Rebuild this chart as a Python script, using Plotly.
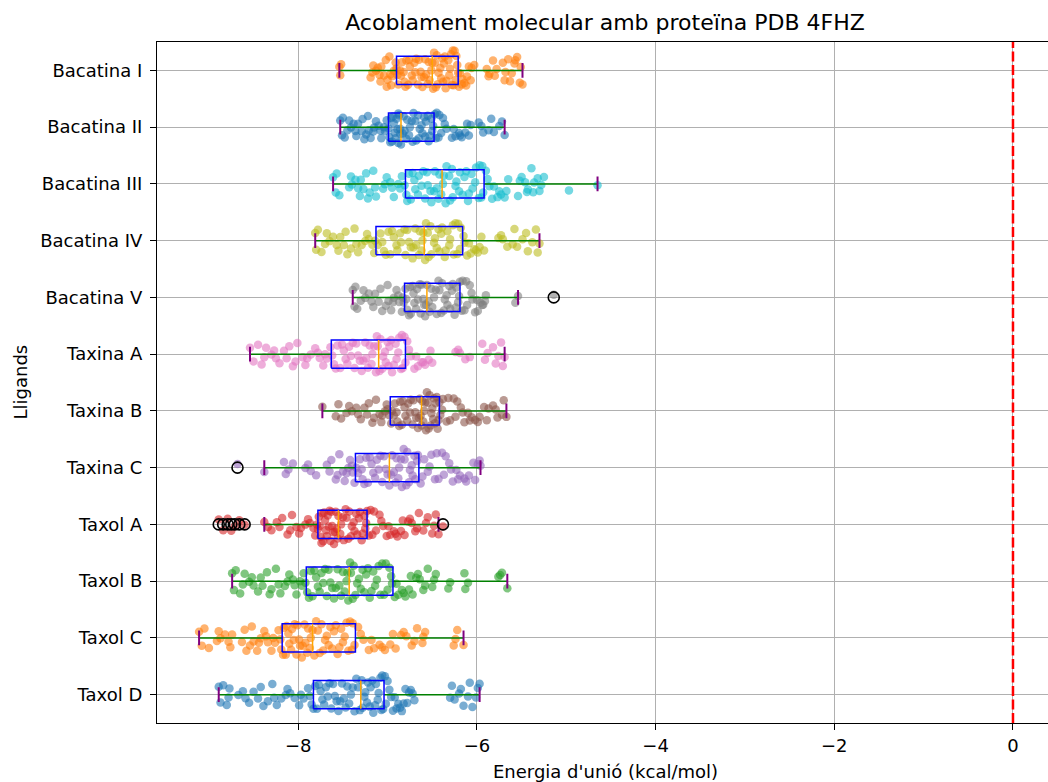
import plotly.graph_objects as go

# ---------------- data ----------------
ligands = ["Bacatina I", "Bacatina II", "Bacatina III", "Bacatina IV", "Bacatina V",
           "Taxina A", "Taxina B", "Taxina C", "Taxol A", "Taxol B", "Taxol C", "Taxol D"]
colors = ["#ff7f0e", "#1f77b4", "#17becf", "#bcbd22", "#7f7f7f",
          "#e377c2", "#8c564b", "#9467bd", "#d62728", "#2ca02c", "#ff7f0e", "#1f77b4"]

whisker_lo = [-7.54, -7.53, -7.61, -7.81, -7.39, -8.54, -7.73, -8.38, -8.38, -8.74, -9.11, -8.89]
q1 =         [-6.90, -6.99, -6.80, -7.13, -6.81, -7.63, -6.97, -7.36, -7.78, -7.91, -8.18, -7.83]
median =     [-6.50, -6.85, -6.39, -6.59, -6.56, -7.10, -6.62, -6.98, -7.55, -7.43, -7.84, -7.30]
q3 =         [-6.21, -6.48, -5.92, -6.16, -6.19, -6.80, -6.42, -6.65, -7.23, -6.94, -7.36, -7.04]
whisker_hi = [-5.49, -5.69, -4.65, -5.30, -5.54, -5.69, -5.67, -5.96, -6.43, -5.66, -6.15, -5.97]

outliers = {
    "Bacatina V": [-5.14],
    "Taxina C": [-8.68],
    "Taxol A": [-8.89, -8.84, -8.79, -8.75, -8.71, -8.66, -8.60, -6.38],
}

energies = {
    "Bacatina I": [-7.54, -7.53, -7.52, -7.19, -7.16, -7.13, -7.11, -7.08, -7.07, -7.04, -7.02, -7.01, -6.98, -6.96, -6.95, -6.93,
                   -6.90, -6.88, -6.86, -6.85, -6.82, -6.80, -6.77, -6.75, -6.73, -6.70, -6.69, -6.66, -6.63, -6.61, -6.58, -6.55, -6.53, -6.51,
                   -6.49, -6.47, -6.45, -6.43, -6.40, -6.38, -6.36, -6.35, -6.32, -6.30, -6.28, -6.26, -6.24, -6.22, -6.21,
                   -6.19, -6.17, -6.14, -6.11, -6.09, -6.06, -6.03, -5.89, -5.86, -5.82, -5.78, -5.71, -5.68, -5.65, -5.61, -5.58, -5.55, -5.51, -5.49,
                   -7.17, -7.09, -7.00, -6.97, -6.91, -6.89, -6.84, -6.81, -6.79, -6.76, -6.72, -6.68, -6.65, -6.62, -6.59, -6.57, -6.54, -6.50,
                   -6.48, -6.46, -6.44, -6.41, -6.39, -6.37, -6.34, -6.31, -6.29, -6.27, -6.25, -6.23, -6.20, -6.16, -6.12, -6.07, -5.87, -5.80,
                   -5.69, -5.63, -5.57, -5.52],
    "Bacatina II": [-7.53, -7.51, -7.48, -7.45, -7.41, -7.38, -7.36, -7.33, -7.29, -7.26, -7.24, -7.21, -7.19, -7.16, -7.13, -7.10, -7.07, -7.04, -7.01,
                    -6.99, -6.98, -6.96, -6.95, -6.93, -6.92, -6.90, -6.89, -6.88, -6.87, -6.86, -6.85,
                    -6.83, -6.81, -6.78, -6.76, -6.73, -6.71, -6.69, -6.66, -6.64, -6.61, -6.59, -6.57, -6.55, -6.53, -6.51, -6.49,
                    -6.47, -6.45, -6.43, -6.40, -6.38, -6.34, -6.28, -6.24, -6.20, -6.17, -6.13, -6.09, -6.07, -5.98, -5.93, -5.87, -5.81, -5.75, -5.69,
                    -7.50, -7.43, -7.35, -7.28, -7.22, -7.15, -7.08, -7.03, -6.97, -6.94, -6.91, -6.88, -6.86, -6.82, -6.79, -6.75,
                    -6.72, -6.68, -6.65, -6.62, -6.58, -6.54, -6.50, -6.46, -6.42, -6.36, -6.26, -6.19, -6.11, -5.95, -5.84, -5.72],
    "Bacatina III": [-7.61, -7.57, -7.54, -7.43, -7.40, -7.36, -7.33, -7.30, -7.27, -7.24, -7.20, -7.16, -7.13, -7.05, -7.01, -6.97, -6.93, -6.88, -6.84, -6.81,
                     -6.79, -6.76, -6.72, -6.69, -6.65, -6.62, -6.58, -6.55, -6.51, -6.48, -6.45, -6.42, -6.40,
                     -6.37, -6.34, -6.30, -6.27, -6.23, -6.19, -6.16, -6.12, -6.09, -6.05, -6.02, -5.98, -5.95, -5.93,
                     -5.90, -5.86, -5.81, -5.77, -5.73, -5.69, -5.65, -5.54, -5.50, -5.46, -5.43, -5.39, -5.36, -5.32, -5.28, -5.25, -4.97, -4.65,
                     -7.58, -7.41, -7.31, -7.22, -7.14, -7.03, -6.95, -6.86, -6.78, -6.74, -6.70, -6.66, -6.60, -6.56, -6.52, -6.47, -6.43,
                     -6.38, -6.35, -6.31, -6.28, -6.24, -6.20, -6.14, -6.10, -6.06, -6.01, -5.97, -5.94, -5.88, -5.83, -5.75, -5.67, -5.52,
                     -5.44, -5.37, -5.30],
    "Bacatina IV": [-7.81, -7.78, -7.74, -7.70, -7.65, -7.61, -7.57, -7.53, -7.49, -7.45, -7.41, -7.37, -7.33, -7.29, -7.25, -7.21, -7.17, -7.14,
                    -7.11, -7.06, -7.02, -6.97, -6.93, -6.89, -6.85, -6.81, -6.78, -6.74, -6.71, -6.68, -6.65, -6.62, -6.60,
                    -6.57, -6.54, -6.51, -6.48, -6.45, -6.42, -6.39, -6.36, -6.33, -6.30, -6.27, -6.24, -6.21, -6.18,
                    -6.15, -6.11, -6.07, -6.03, -5.99, -5.95, -5.92, -5.76, -5.71, -5.66, -5.60, -5.55, -5.49, -5.43, -5.38, -5.34, -5.30,
                    -7.80, -7.68, -7.55, -7.47, -7.35, -7.23, -7.15, -7.08, -7.04, -6.99, -6.95, -6.90, -6.86, -6.80, -6.76, -6.72, -6.69,
                    -6.64, -6.61, -6.58, -6.55, -6.52, -6.47, -6.43, -6.40, -6.35, -6.31, -6.26, -6.22, -6.19, -6.14, -6.09, -6.01, -5.97,
                    -5.73, -5.58, -5.45, -5.32],
    "Bacatina V": [-7.39, -7.37, -7.34, -7.30, -7.25, -7.21, -7.18, -7.14, -7.10, -7.06, -7.02, -6.99, -6.96, -6.93, -6.90, -6.87, -6.84, -6.82,
                   -6.80, -6.78, -6.76, -6.74, -6.72, -6.70, -6.68, -6.66, -6.64, -6.62, -6.60, -6.58, -6.56,
                   -6.54, -6.51, -6.48, -6.45, -6.42, -6.39, -6.36, -6.33, -6.30, -6.28, -6.25, -6.23, -6.21, -6.19,
                   -6.17, -6.14, -6.11, -6.08, -6.05, -6.02, -5.99, -5.96, -5.93, -5.90, -5.57, -5.54, -5.14,
                   -7.36, -7.27, -7.16, -7.08, -7.00, -6.94, -6.88, -6.83, -6.79, -6.75, -6.71, -6.67, -6.63, -6.59, -6.57, -6.53,
                   -6.50, -6.46, -6.43, -6.40, -6.37, -6.34, -6.31, -6.27, -6.24, -6.20, -6.16, -6.12, -6.06, -6.00, -5.94, -5.91],
    "Taxina A": [-8.54, -8.45, -8.41, -8.36, -8.30, -8.25, -8.21, -8.16, -8.10, -8.06, -8.01, -7.95, -7.90, -7.86, -7.81, -7.76, -7.72, -7.68, -7.64,
                 -7.60, -7.56, -7.51, -7.47, -7.43, -7.39, -7.35, -7.31, -7.27, -7.24, -7.20, -7.17, -7.13, -7.11,
                 -7.08, -7.05, -7.03, -7.00, -6.98, -6.95, -6.93, -6.90, -6.87, -6.85, -6.83, -6.81,
                 -6.78, -6.74, -6.70, -6.66, -6.62, -6.58, -6.54, -6.50, -6.24, -6.19, -6.13, -6.08, -5.94, -5.88, -5.82, -5.76, -5.71, -5.69,
                 -8.50, -8.38, -8.27, -8.13, -8.03, -7.92, -7.78, -7.70, -7.62, -7.58, -7.53, -7.49, -7.45, -7.41, -7.37, -7.33,
                 -7.29, -7.25, -7.22, -7.18, -7.15, -7.12, -7.09, -7.06, -7.02, -6.99, -6.96, -6.91, -6.88, -6.84, -6.80, -6.76,
                 -6.68, -6.60, -6.52, -6.21, -5.91, -5.79, -5.73],
    "Taxina B": [-7.73, -7.58, -7.52, -7.46, -7.40, -7.35, -7.30, -7.26, -7.21, -7.17, -7.13, -7.09, -7.06, -7.03, -7.00, -6.98,
                 -6.95, -6.92, -6.89, -6.86, -6.83, -6.80, -6.77, -6.74, -6.71, -6.68, -6.65, -6.63,
                 -6.61, -6.59, -6.57, -6.55, -6.53, -6.51, -6.49, -6.47, -6.45, -6.43,
                 -6.41, -6.38, -6.34, -6.30, -6.26, -6.22, -6.18, -6.14, -6.10, -6.06, -6.02, -5.97, -5.92, -5.87, -5.82, -5.77, -5.72, -5.67,
                 -7.55, -7.43, -7.33, -7.23, -7.15, -7.07, -7.01, -6.96, -6.93, -6.90, -6.87, -6.84, -6.81, -6.78, -6.75, -6.72,
                 -6.69, -6.66, -6.64, -6.62, -6.60, -6.58, -6.56, -6.54, -6.52, -6.50, -6.48, -6.46, -6.44, -6.42, -6.39, -6.32,
                 -6.24, -6.16, -6.08, -5.99, -5.89, -5.79, -5.70],
    "Taxina C": [-8.68, -8.38, -8.16, -8.11, -8.06, -7.92, -7.86, -7.80, -7.68, -7.63, -7.58, -7.54, -7.50, -7.46, -7.42, -7.39,
                 -7.35, -7.31, -7.28, -7.24, -7.20, -7.16, -7.12, -7.08, -7.04, -7.00,
                 -6.96, -6.93, -6.90, -6.87, -6.84, -6.81, -6.78, -6.75, -6.72, -6.69, -6.66,
                 -6.63, -6.59, -6.55, -6.51, -6.47, -6.43, -6.39, -6.35, -6.31, -6.27, -6.23, -6.19, -6.14, -6.09, -6.04, -5.99, -5.96,
                 -8.14, -7.89, -7.65, -7.56, -7.48, -7.44, -7.40, -7.37, -7.33, -7.29, -7.26, -7.22, -7.18, -7.14, -7.10, -7.06,
                 -7.02, -6.98, -6.95, -6.91, -6.88, -6.85, -6.82, -6.79, -6.76, -6.73, -6.70, -6.67, -6.61, -6.53, -6.45, -6.37,
                 -6.29, -6.21, -6.12, -6.02, -5.97],
    "Taxol A": [-8.89, -8.84, -8.79, -8.75, -8.71, -8.66, -8.60, -8.38, -8.30, -8.24, -8.18, -8.12, -8.07, -8.02, -7.97, -7.92, -7.87, -7.83, -7.79,
                -7.77, -7.76, -7.74, -7.73, -7.71, -7.70, -7.68, -7.67, -7.65, -7.64, -7.62, -7.61, -7.59, -7.58, -7.57, -7.56,
                -7.53, -7.50, -7.47, -7.44, -7.41, -7.38, -7.35, -7.32, -7.29, -7.26, -7.24,
                -7.21, -7.17, -7.13, -7.09, -7.05, -7.01, -6.97, -6.93, -6.89, -6.85, -6.81, -6.77, -6.73, -6.69, -6.65, -6.60, -6.55, -6.50, -6.46, -6.43, -6.38,
                -8.34, -8.21, -8.09, -7.99, -7.89, -7.81, -7.78, -7.75, -7.72, -7.69, -7.66, -7.63, -7.60, -7.55, -7.52, -7.49,
                -7.46, -7.43, -7.40, -7.37, -7.34, -7.31, -7.28, -7.25, -7.23, -7.19, -7.15, -7.07, -6.99, -6.91, -6.83, -6.75,
                -6.67, -6.57, -6.48],
    "Taxol B": [-8.74, -8.70, -8.65, -8.60, -8.55, -8.50, -8.45, -8.40, -8.35, -8.30, -8.25, -8.20, -8.15, -8.10, -8.06, -8.02, -7.98, -7.94,
                -7.90, -7.86, -7.82, -7.78, -7.74, -7.70, -7.66, -7.62, -7.58, -7.54, -7.50, -7.46, -7.44,
                -7.41, -7.38, -7.34, -7.30, -7.26, -7.22, -7.18, -7.14, -7.10, -7.06, -7.02, -6.98, -6.95,
                -6.92, -6.88, -6.84, -6.80, -6.76, -6.72, -6.68, -6.64, -6.60, -6.55, -6.50, -6.46, -6.32, -6.30, -6.13, -6.10, -5.76, -5.72, -5.66,
                -8.72, -8.62, -8.52, -8.42, -8.32, -8.22, -8.12, -8.04, -7.96, -7.92, -7.88, -7.84, -7.80, -7.76, -7.72, -7.68,
                -7.64, -7.60, -7.56, -7.52, -7.48, -7.45, -7.42, -7.39, -7.36, -7.32, -7.28, -7.24, -7.20, -7.16, -7.12, -7.08,
                -7.04, -7.00, -6.96, -6.90, -6.82, -6.74, -6.66, -6.58, -6.48, -6.14, -5.74],
    "Taxol C": [-9.11, -9.05, -9.00, -8.91, -8.87, -8.82, -8.78, -8.74, -8.63, -8.58, -8.54, -8.50, -8.46, -8.42, -8.38, -8.34, -8.30, -8.26, -8.22, -8.19,
                -8.16, -8.13, -8.10, -8.07, -8.04, -8.01, -7.98, -7.95, -7.92, -7.89, -7.86,
                -7.82, -7.78, -7.74, -7.70, -7.66, -7.62, -7.58, -7.54, -7.50, -7.46, -7.42, -7.39, -7.37,
                -7.33, -7.27, -7.21, -7.15, -7.09, -7.03, -6.97, -6.91, -6.85, -6.79, -6.73, -6.67, -6.61, -6.58, -6.26, -6.22, -6.15,
                -9.08, -8.89, -8.76, -8.60, -8.52, -8.44, -8.36, -8.28, -8.20, -8.17, -8.14, -8.11, -8.08, -8.05, -8.02, -7.99,
                -7.96, -7.93, -7.90, -7.87, -7.84, -7.80, -7.76, -7.72, -7.68, -7.64, -7.60, -7.56, -7.52, -7.48, -7.44, -7.40,
                -7.30, -7.18, -7.06, -6.94, -6.82, -6.70, -6.60, -6.24],
    "Taxol D": [-8.89, -8.84, -8.80, -8.77, -8.67, -8.62, -8.55, -8.50, -8.45, -8.39, -8.34, -8.29, -8.24, -8.19, -8.14, -8.09, -8.04, -7.99, -7.94, -7.89, -7.85,
                -7.81, -7.77, -7.73, -7.69, -7.65, -7.61, -7.57, -7.53, -7.49, -7.45, -7.41, -7.37, -7.33,
                -7.28, -7.25, -7.22, -7.19, -7.16, -7.13, -7.10, -7.07, -7.05,
                -7.02, -6.98, -6.94, -6.90, -6.86, -6.82, -6.78, -6.74, -6.70, -6.30, -6.25, -6.20, -6.15, -6.10, -6.05, -6.01, -5.97,
                -8.87, -8.78, -8.59, -8.42, -8.27, -8.12, -7.97, -7.87, -7.83, -7.79, -7.75, -7.71, -7.67, -7.63, -7.59, -7.55,
                -7.51, -7.47, -7.43, -7.39, -7.35, -7.31, -7.29, -7.26, -7.23, -7.20, -7.17, -7.14, -7.11, -7.08, -7.06, -7.03,
                -7.00, -6.96, -6.92, -6.88, -6.84, -6.80, -6.76, -6.72, -6.28, -6.18, -6.08, -5.99],
}

x_ticks = [-8, -6, -4, -2, 0]
reference_energy = 0

title = "Acoblament molecular amb proteïna PDB 4FHZ"
x_label = "Energia d'unió (kcal/mol)"
y_label = "Lligands"

# ---------------- figure ----------------
FONT = "DejaVu Sans"
n = len(ligands)
positions = [n - i for i in range(n)]   # Bacatina I on top
BOX_HALF = 0.25
CAP_HALF = 0.13

fig = go.Figure()

# jittered sample points (jitter handled by plotly's box points)
for name, pos, col in zip(ligands, positions, colors):
    vals = energies[name]
    fig.add_trace(go.Box(
        x=vals, y=[pos] * len(vals), orientation="h",
        boxpoints="all", jitter=1.0, pointpos=0, width=0.7,
        line=dict(width=0, color="rgba(0,0,0,0)"), fillcolor="rgba(0,0,0,0)",
        marker=dict(color=col, size=8.5, opacity=0.6, line=dict(width=0)),
        whiskerwidth=0, showlegend=False, hoverinfo="x",
    ))

# box-plot elements built from the statistics
for i, pos in enumerate(positions):
    lo, a, m, b, hi = whisker_lo[i], q1[i], median[i], q3[i], whisker_hi[i]
    fig.add_trace(go.Scatter(x=[lo, a, None, b, hi], y=[pos, pos, None, pos, pos], mode="lines",
                             line=dict(color="green", width=1.5), showlegend=False, hoverinfo="skip"))
    fig.add_trace(go.Scatter(x=[lo, lo, None, hi, hi],
                             y=[pos - CAP_HALF, pos + CAP_HALF, None, pos - CAP_HALF, pos + CAP_HALF],
                             mode="lines", line=dict(color="purple", width=2), showlegend=False, hoverinfo="skip"))
    fig.add_trace(go.Scatter(x=[a, b, b, a, a],
                             y=[pos - BOX_HALF, pos - BOX_HALF, pos + BOX_HALF, pos + BOX_HALF, pos - BOX_HALF],
                             mode="lines", line=dict(color="blue", width=1.5), showlegend=False, hoverinfo="skip"))
    fig.add_trace(go.Scatter(x=[m, m], y=[pos - BOX_HALF, pos + BOX_HALF], mode="lines",
                             line=dict(color="orange", width=1.5), showlegend=False, hoverinfo="skip"))

# outliers
for name, pos in zip(ligands, positions):
    if name in outliers:
        ov = outliers[name]
        fig.add_trace(go.Scatter(x=ov, y=[pos] * len(ov), mode="markers",
                                 marker=dict(symbol="circle-open", size=11, color="black", line=dict(width=1.6)),
                                 showlegend=False, hoverinfo="x"))

fig.add_shape(type="line", xref="x", yref="paper", x0=reference_energy, x1=reference_energy, y0=0, y1=1,
              line=dict(color="red", width=2.5, dash="10px,3.5px"))

fig.update_layout(
    width=1048, height=782,
    margin=dict(l=157, r=0, t=42, b=59),
    paper_bgcolor="white", plot_bgcolor="white",
    font=dict(family=FONT, size=18, color="black"),
    title=dict(text=title, x=605 / 1048, xanchor="center", xref="container",
               y=1 - 22 / 782, yanchor="middle", yref="container",
               font=dict(family=FONT, size=22, color="black")),
    boxmode="overlay",
    showlegend=False,
)
fig.update_xaxes(range=[-9.581, 0.392], tickvals=x_ticks, showgrid=True, gridcolor="#b0b0b0", gridwidth=1,
                 zeroline=False, showline=True, linecolor="black", linewidth=1.2, mirror=True,
                 ticks="outside", ticklen=6, tickcolor="black", tickfont=dict(size=18, color="black"))
fig.update_yaxes(range=[0.5, 12.5], tickvals=positions, ticktext=ligands, showgrid=True, gridcolor="#b0b0b0",
                 gridwidth=1, zeroline=False, showline=True, linecolor="black", linewidth=1.2,
                 ticks="outside", ticklen=6, tickcolor="black", ticklabelstandoff=4,
                 tickfont=dict(size=18, color="black"))

fig.add_annotation(text=x_label, xref="paper", yref="paper", x=0.503, y=-(771 - 723) / 681,
                   xanchor="center", yanchor="middle", showarrow=False, font=dict(size=18, color="black"))
fig.add_annotation(text=y_label, xref="paper", yref="paper", x=(20 - 157) / 891, y=0.5, textangle=-90,
                   xanchor="center", yanchor="middle", showarrow=False, font=dict(size=18, color="black"))

fig.write_html("out.html", config={"displayModeBar": False},
               post_script="document.body.style.margin='0';document.body.style.overflow='hidden';")
